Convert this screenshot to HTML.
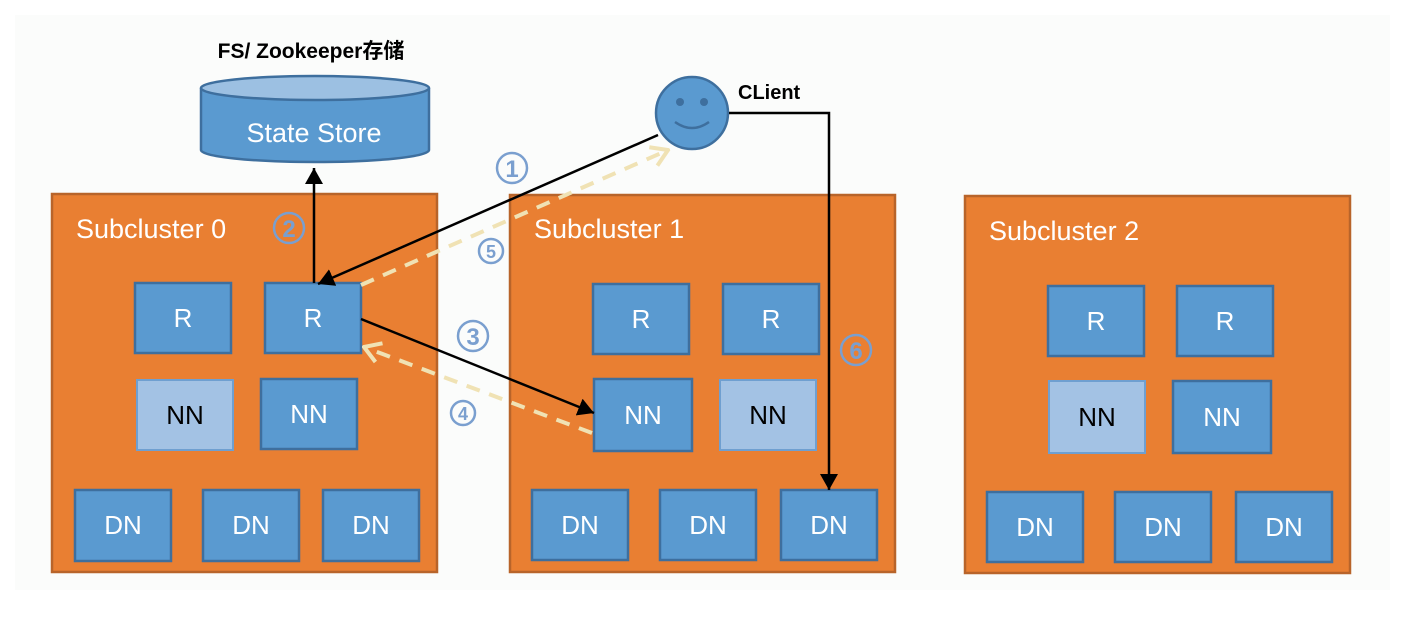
<!DOCTYPE html>
<html><head><meta charset="utf-8"><style>
html,body{margin:0;padding:0;background:#fff;}
svg{display:block;font-family:"Liberation Sans","DejaVu Sans","Noto Sans CJK SC",sans-serif;}
</style></head><body>
<svg width="1417" height="638" viewBox="0 0 1417 638" xmlns="http://www.w3.org/2000/svg">
<defs>
<marker id="ah" markerWidth="10" markerHeight="10" refX="9" refY="5" orient="auto" markerUnits="userSpaceOnUse"><path d="M0,0 L10,5 L0,10 z" fill="#000"/></marker>
<marker id="ah2" markerWidth="18" markerHeight="18" refX="16" refY="9" orient="auto" markerUnits="userSpaceOnUse"><path d="M0,0 L16,9 L0,18 z" fill="#000"/></marker>
<marker id="oh" markerWidth="20" markerHeight="24" refX="18" refY="12" orient="auto" markerUnits="userSpaceOnUse"><path d="M2,2 L18,12 L2,22" fill="none" stroke="#f0e2b4" stroke-width="4"/></marker>
</defs>
<rect x="15" y="15" width="1375" height="575" fill="#fbfcfb"/>
<!-- subclusters -->
<g fill="#e97f32" stroke="#b8642a" stroke-width="2.5">
<rect x="52" y="194" width="385" height="378"/>
<rect x="510" y="195" width="385" height="377"/>
<rect x="965" y="196" width="385" height="377"/>
</g>
<g fill="#fff" font-size="27">
<text x="76" y="238">Subcluster 0</text>
<text x="534" y="238">Subcluster 1</text>
<text x="989" y="240">Subcluster 2</text>
</g>
<!-- boxes -->
<g stroke="#3e6f9e" stroke-width="2.5" fill="#5a9ad0">
<rect x="135" y="283" width="96" height="70"/><rect x="265" y="283" width="96" height="70"/>
<rect x="261" y="379" width="96" height="70"/>
<rect x="75" y="490" width="96" height="71"/><rect x="203" y="490" width="96" height="71"/><rect x="323" y="490" width="96" height="71"/>
<rect x="593" y="284" width="96" height="70"/><rect x="723" y="284" width="96" height="70"/>
<rect x="594" y="379" width="98" height="72"/>
<rect x="532" y="490" width="96" height="70"/><rect x="660" y="490" width="96" height="70"/><rect x="781" y="490" width="96" height="70"/>
<rect x="1048" y="286" width="96" height="70"/><rect x="1177" y="286" width="96" height="70"/>
<rect x="1173" y="381" width="98" height="72"/>
<rect x="987" y="492" width="96" height="70"/><rect x="1115" y="492" width="96" height="70"/><rect x="1236" y="492" width="96" height="70"/>
</g>
<g stroke="#6f9fd0" stroke-width="2" fill="#a3c2e4">
<rect x="137" y="380" width="96" height="70"/>
<rect x="720" y="380" width="96" height="70"/>
<rect x="1049" y="381" width="96" height="72"/>
</g>
<g fill="#fff" font-size="26" text-anchor="middle">
<text x="183" y="327">R</text><text x="313" y="327">R</text><text x="309" y="423">NN</text>
<text x="123" y="534">DN</text><text x="251" y="534">DN</text><text x="371" y="534">DN</text>
<text x="641" y="328">R</text><text x="771" y="328">R</text><text x="643" y="424">NN</text>
<text x="580" y="534">DN</text><text x="708" y="534">DN</text><text x="829" y="534">DN</text>
<text x="1096" y="330">R</text><text x="1225" y="330">R</text><text x="1222" y="426">NN</text>
<text x="1035" y="536">DN</text><text x="1163" y="536">DN</text><text x="1284" y="536">DN</text>
</g>
<g fill="#000" font-size="26" text-anchor="middle">
<text x="185" y="424">NN</text><text x="768" y="424">NN</text><text x="1097" y="426">NN</text>
</g>
<!-- cylinder -->
<path d="M201,88 L201,150 A114,12 0 0 0 429,150 L429,88" fill="#5a9ad0" stroke="#3e6f9e" stroke-width="2.5"/>
<ellipse cx="315" cy="88" rx="114" ry="12" fill="#9cc0e2" stroke="#3e6f9e" stroke-width="2.5"/>
<text x="314" y="142" fill="#fff" font-size="27" text-anchor="middle">State Store</text>
<text x="311" y="58" font-size="21" font-weight="bold" text-anchor="middle" fill="#000">FS/ Zookeeper存储</text>
<!-- client -->
<circle cx="692" cy="113" r="36" fill="#5a9ad0" stroke="#3e6f9e" stroke-width="2.5"/>
<circle cx="680" cy="102" r="4" fill="#3e6f9e"/><circle cx="704" cy="102" r="4" fill="#3e6f9e"/>
<path d="M675,122 Q692,134 709,122" fill="none" stroke="#3e6f9e" stroke-width="2.5"/>
<text x="738" y="99" font-size="20" font-weight="bold" fill="#000">CLient</text>
<!-- arrows -->
<polyline points="729,113 829,113 829,490" fill="none" stroke="#000" stroke-width="2.5" marker-end="url(#ah2)"/>
<line x1="314" y1="283" x2="314" y2="168" stroke="#000" stroke-width="2.5" marker-end="url(#ah2)"/>
<line x1="658" y1="135" x2="318" y2="284" stroke="#000" stroke-width="2.5" marker-end="url(#ah2)"/>
<line x1="361" y1="319" x2="594" y2="413" stroke="#000" stroke-width="2.5" marker-end="url(#ah2)"/>
<line x1="361" y1="285" x2="668" y2="150" stroke="#f0e2b4" stroke-width="4" stroke-dasharray="14,10" marker-end="url(#oh)"/>
<line x1="592" y1="433" x2="364" y2="347" stroke="#f0e2b4" stroke-width="4" stroke-dasharray="14,10" marker-end="url(#oh)"/>
<!-- circled numbers -->
<g fill="none" stroke="#7a9fcf" stroke-width="2.5">
<circle cx="512" cy="168" r="15"/><circle cx="289" cy="228" r="15"/><circle cx="491" cy="251" r="12"/>
<circle cx="473" cy="336" r="15"/><circle cx="463" cy="413" r="12"/><circle cx="856" cy="350" r="15"/>
</g>
<g fill="#7a9fcf" font-weight="bold" text-anchor="middle">
<text x="512" y="177" font-size="24">1</text><text x="289" y="237" font-size="24">2</text><text x="491" y="258" font-size="18">5</text>
<text x="473" y="345" font-size="24">3</text><text x="463" y="420" font-size="18">4</text><text x="856" y="359" font-size="24">6</text>
</g>
</svg>
</body></html>
